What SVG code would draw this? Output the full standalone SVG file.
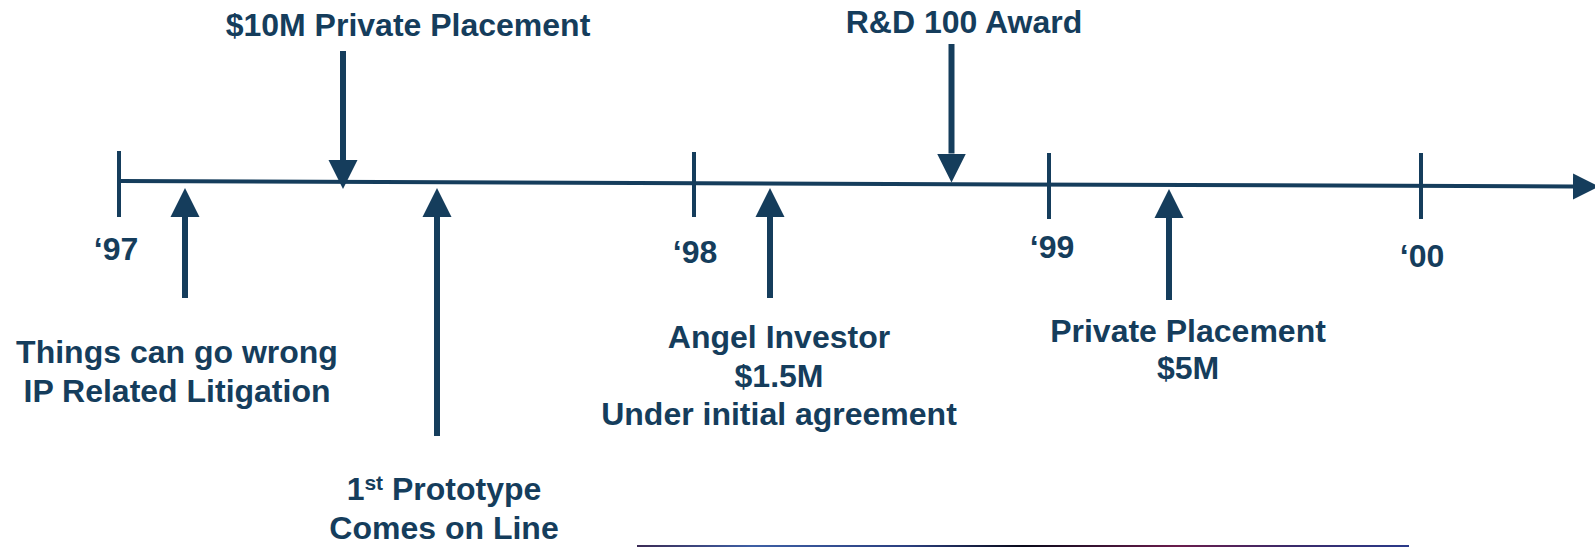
<svg xmlns="http://www.w3.org/2000/svg" width="1595" height="547" viewBox="0 0 1595 547">
  <style>
    .t { font-family: "Liberation Sans", Arial, sans-serif; font-weight: bold; font-size: 32px; fill: #153d5c; text-anchor: middle; }
    .yr { font-family: "Liberation Sans", Arial, sans-serif; font-weight: bold; font-size: 32px; fill: #153d5c; text-anchor: middle; }
    .arr { stroke: #153d5c; stroke-width: 6; fill: none; marker-end: url(#head); }
    .axis { stroke: #153d5c; stroke-width: 4; fill: none; marker-end: url(#axhead); }
    .tick { stroke: #153d5c; stroke-width: 4; }
  </style>
  <defs>
    <marker id="head" markerUnits="userSpaceOnUse" markerWidth="30" markerHeight="30" viewBox="0 -15 30 30" refX="0" refY="0" orient="auto">
      <path d="M0,-14.5 L29,0 L0,14.5 Z" fill="#153d5c"/>
    </marker>
    <marker id="axhead" markerUnits="userSpaceOnUse" markerWidth="27" markerHeight="28" viewBox="0 -14 27 28" refX="0" refY="0" orient="auto">
      <path d="M0,-13 L26,0 L0,13 Z" fill="#153d5c"/>
    </marker>
    <linearGradient id="bar" x1="0" y1="0" x2="1" y2="0">
      <stop offset="0" stop-color="#3b2b55"/>
      <stop offset="0.15" stop-color="#3d5fa5"/>
      <stop offset="0.35" stop-color="#2b3f80"/>
      <stop offset="0.5" stop-color="#0a0a1a"/>
      <stop offset="0.7" stop-color="#6a1c4c"/>
      <stop offset="0.85" stop-color="#3a2a6a"/>
      <stop offset="1" stop-color="#2a3a8a"/>
    </linearGradient>
  </defs>

  <g id="timeline">
    <line class="axis" x1="119" y1="181" x2="1573" y2="186.5"/>
    <line class="tick" x1="119" y1="151" x2="119" y2="217"/>
    <line class="tick" x1="694" y1="152" x2="694" y2="217"/>
    <line class="tick" x1="1049" y1="153" x2="1049" y2="219"/>
    <line class="tick" x1="1421" y1="153" x2="1421" y2="219"/>
  </g>

  <g id="year-97"><text class="yr" x="116" y="260">‘97</text></g>
  <g id="year-98"><text class="yr" x="695" y="263">‘98</text></g>
  <g id="year-99"><text class="yr" x="1052" y="258">‘99</text></g>
  <g id="year-00"><text class="yr" x="1422" y="267">‘00</text></g>

  <g id="connectors">
    <line class="arr" x1="343" y1="51" x2="343" y2="160"/>
    <line class="arr" x1="951.5" y1="44" x2="951.5" y2="153.5"/>
    <line class="arr" x1="185" y1="298" x2="185" y2="217"/>
    <line class="arr" x1="437" y1="436" x2="437" y2="217"/>
    <line class="arr" x1="770" y1="298" x2="770" y2="217"/>
    <line class="arr" x1="1169" y1="300" x2="1169" y2="218"/>
  </g>

  <g id="private-placement-10m"><text class="t" x="408" y="36">$10M Private Placement</text></g>
  <g id="rd-award"><text class="t" x="964" y="33">R&amp;D 100 Award</text></g>
  <g id="litigation">
    <text class="t" x="177" y="363">Things can go wrong</text>
    <text class="t" x="177" y="402">IP Related Litigation</text>
  </g>
  <g id="prototype">
    <text class="t" x="444" y="500">1<tspan font-size="21" dy="-10">st</tspan><tspan dy="10"> Prototype</tspan></text>
    <text class="t" x="444" y="539">Comes on Line</text>
  </g>
  <g id="angel-investor">
    <text class="t" x="779" y="348">Angel Investor</text>
    <text class="t" x="779" y="387">$1.5M</text>
    <text class="t" x="779" y="425">Under initial agreement</text>
  </g>
  <g id="private-placement-5m">
    <text class="t" x="1188" y="342">Private Placement</text>
    <text class="t" x="1188" y="379">$5M</text>
  </g>

  <g id="footer-bar">
    <rect x="637" y="545" width="772" height="2" fill="url(#bar)"/>
  </g>
</svg>
